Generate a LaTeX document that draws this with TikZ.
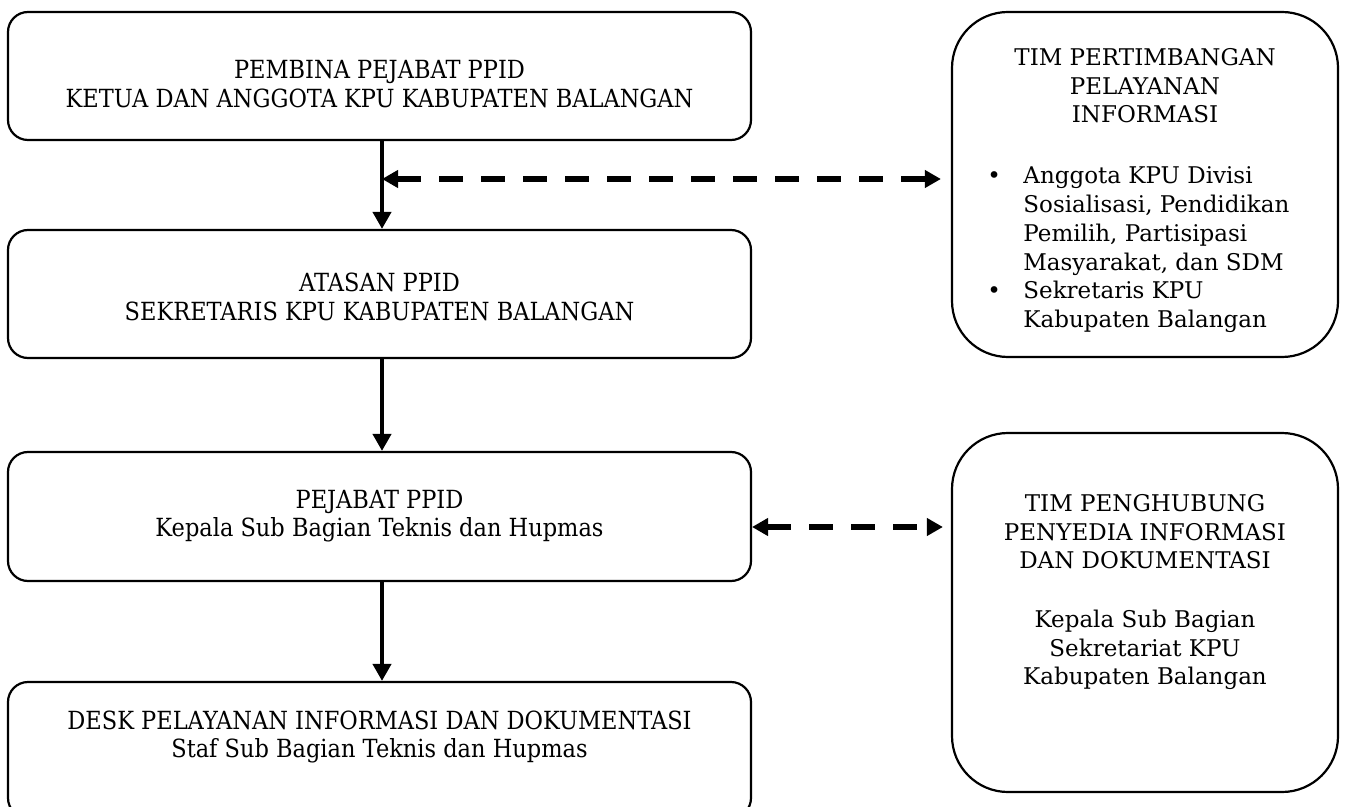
\documentclass[tikz,border=0pt]{standalone}
\usepackage{fontspec}
\setmainfont{DejaVu Serif}
\newfontfamily\condf[FakeStretch=0.9]{DejaVu Serif}
\usetikzlibrary{arrows.meta,calc}
\tikzset{
  lbox/.style={draw, line width=1.1pt, rounded corners=10pt, minimum width=371.5pt, minimum height=64pt, inner sep=0pt},
  rbox/.style={draw, line width=1.1pt, rounded corners=28pt, minimum width=193pt, inner sep=0pt},
  ltext/.style={align=center, inner sep=0pt, font=\condf\fontsize{12.5}{14.2}\selectfont},
  rtext/.style={align=center, inner sep=0pt, font=\fontsize{11.5}{14.2}\selectfont},
  varr/.style={line width=2pt, -{Triangle[length=8.5pt,width=9pt]}},
  darr/.style={line width=2.6pt, dash pattern=on 12pt off 9pt, {Triangle[length=8pt,width=8.5pt]}-{Triangle[length=8pt,width=8.5pt]}}
}
\begin{document}
\begin{tikzpicture}[x=0.5pt,y=-0.5pt]
\useasboundingbox (0,0) rectangle (1347,807);
% left boxes
\node[lbox] (b1) at (379.5,76) {};
\node[lbox] (b2) at (379.5,294) {};
\node[lbox, minimum height=64.5pt] (b3) at (379.5,516.5) {};
\node[lbox, minimum height=68pt] (b4) at (379.5,750) {};
% right boxes
\node[rbox, minimum height=172.5pt] (r1) at (1145,184.5) {};
\node[rbox, minimum height=179.5pt] (r2) at (1145,612.5) {};
% left texts
\node[ltext] (t1) at (379.5,84) {PEMBINA PEJABAT PPID\\KETUA DAN ANGGOTA KPU KABUPATEN BALANGAN};
\node[ltext] (t2) at (379.5,297) {ATASAN PPID\\SEKRETARIS KPU KABUPATEN BALANGAN};
\node[ltext] (t3) at (379.5,516) {PEJABAT PPID\\Kepala Sub Bagian Teknis dan Hupmas};
\node[ltext] (t4) at (379.5,737) {DESK PELAYANAN INFORMASI DAN DOKUMENTASI\\Staf Sub Bagian Teknis dan Hupmas};
% right texts
\node[rtext] (rt1) at (1145,86) {TIM PERTIMBANGAN\\PELAYANAN\\INFORMASI};
\node[anchor=west, inner sep=0pt, font=\fontsize{11.5}{14.4}\selectfont] (rl1) at (987,250) {%
  \begin{tabular}{@{}p{18pt}@{}l@{}}
  \textbullet & Anggota KPU Divisi\\
   & Sosialisasi, Pendidikan\\
   & Pemilih, Partisipasi\\
   & Masyarakat, dan SDM\\
  \textbullet & Sekretaris KPU\\
   & Kabupaten Balangan
  \end{tabular}};
\node[rtext] (rt2) at (1145,532) {TIM PENGHUBUNG\\PENYEDIA INFORMASI\\DAN DOKUMENTASI};
\node[rtext] (rt3) at (1145,650) {Kepala Sub Bagian\\Sekretariat KPU\\Kabupaten Balangan};
% connectors
\coordinate (ax) at (382,0);
\coordinate (d1) at (382,179);
\coordinate (d2) at (752,527);
\draw[varr] (b1.south -| ax) -- (b2.north -| ax);
\draw[varr] (b2.south -| ax) -- (b3.north -| ax);
\draw[varr] (b3.south -| ax) -- (b4.north -| ax);
\draw[darr, shorten >=5pt] (d1) -- (r1.west |- d1);
\draw[darr, shorten >=4pt] (d2) -- (r2.west |- d2);
\end{tikzpicture}
\end{document}
